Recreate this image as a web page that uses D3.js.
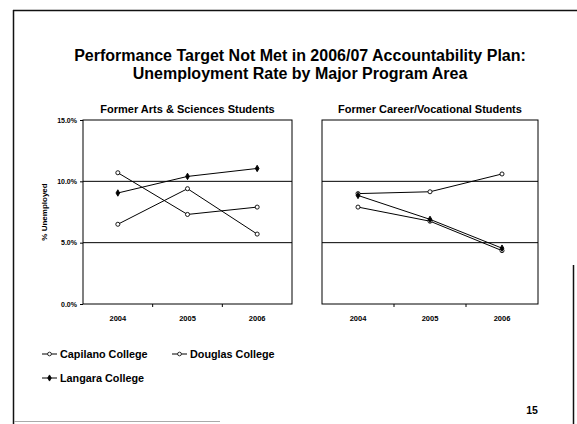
<!DOCTYPE html>
<html>
<head>
<meta charset="utf-8">
<script src="https://cdn.jsdelivr.net/npm/d3@7"></script>
<style>
  body { margin: 0; background: #fff; }
  text { font-family: "Liberation Sans", Arial, sans-serif; font-weight: bold; fill: #000; }
</style>
</head>
<body>
<div id="chart"></div>
<script>
// data
var years = ["2004", "2005", "2006"];
var yTicks = [0, 5, 10, 15];
var colleges = ["Capilano College", "Douglas College", "Langara College"];

// former arts & sciences students (% unemployed)
var artsCapilano = [10.7, 7.3, 7.9];
var artsDouglas = [6.5, 9.4, 5.7];
var artsLangara = [9.05, 10.4, 11.05];

// former career/vocational students
var careerCapilano = [9.0, 9.15, 10.6];
var careerDouglas = [7.9, 6.75, 4.35];
var careerLangara = [8.85, 6.9, 4.55];

var svgWidth = 577;
var svgHeight = 424;

var svg = d3.select("#chart")
  .append("svg")
  .attr("width", svgWidth)
  .attr("height", svgHeight);

// slide frame
svg.append("line").attr("x1", 13).attr("x2", 577).attr("y1", 10.5).attr("y2", 10.5)
  .attr("stroke", "#111").attr("stroke-width", 1.5);
svg.append("line").attr("x1", 13.5).attr("x2", 13.5).attr("y1", 10).attr("y2", 424)
  .attr("stroke", "#111").attr("stroke-width", 1.5);
svg.append("line").attr("x1", 573.5).attr("x2", 573.5).attr("y1", 265).attr("y2", 424)
  .attr("stroke", "#111").attr("stroke-width", 1.5);
svg.append("line").attr("x1", 14).attr("x2", 220).attr("y1", 421.5).attr("y2", 421.5)
  .attr("stroke", "#aaa").attr("stroke-width", 1);

// main title
svg.append("text").attr("x", 300).attr("y", 61).attr("text-anchor", "middle")
  .style("font-size", "16px")
  .text("Performance Target Not Met in 2006/07 Accountability Plan:");
svg.append("text").attr("x", 300).attr("y", 79).attr("text-anchor", "middle")
  .style("font-size", "16px")
  .text("Unemployment Rate by Major Program Area");

var plotTop = 120;
var plotBottom = 304;

var yScale = d3.scaleLinear().domain([0, 15]).range([plotBottom, plotTop]);

function drawPanel(left, right, title, series, showY) {
  var g = svg.append("g");
  var xScale = d3.scaleBand().domain(years).range([left, right]);

  // panel title
  g.append("text")
    .attr("x", (left + right) / 2)
    .attr("y", 113)
    .attr("text-anchor", "middle")
    .style("font-size", "11px")
    .text(title);

  // gridlines at 5% and 10%
  g.selectAll("line.grid")
    .data([5, 10])
    .enter()
    .append("line")
    .attr("x1", left).attr("x2", right)
    .attr("y1", d => yScale(d)).attr("y2", d => yScale(d))
    .attr("stroke", "#000").attr("stroke-width", 1);

  // plot border
  g.append("rect")
    .attr("x", left).attr("y", plotTop)
    .attr("width", right - left).attr("height", plotBottom - plotTop)
    .attr("fill", "none").attr("stroke", "#000").attr("stroke-width", 1);

  // y axis
  var yAxis = d3.axisLeft(yScale).tickValues(yTicks).tickSize(showY ? 3 : 0)
    .tickFormat(d => showY ? d.toFixed(1) + "%" : "");
  var ya = g.append("g").attr("transform", `translate(${left}, 0)`).call(yAxis);
  ya.select(".domain").remove();
  ya.selectAll("text").style("font-size", "7px").attr("font-family", null);

  // x axis
  var xAxis = d3.axisBottom(xScale).tickSize(0).tickPadding(12);
  var xa = g.append("g").attr("transform", `translate(0, ${plotBottom})`).call(xAxis);
  xa.select(".domain").remove();
  xa.selectAll("text").style("font-size", "7.5px").attr("font-family", null);

  // category boundary ticks
  g.selectAll("line.catTick")
    .data(years.slice(1))
    .enter()
    .append("line")
    .attr("x1", d => xScale(d)).attr("x2", d => xScale(d))
    .attr("y1", plotBottom).attr("y2", plotBottom + 3)
    .attr("stroke", "#000");

  var line = d3.line()
    .x((d, i) => xScale(years[i]) + xScale.bandwidth() / 2)
    .y(d => yScale(d));

  series.forEach(function(s) {
    g.append("path")
      .datum(s.values)
      .attr("d", line)
      .attr("fill", "none")
      .attr("stroke", "#000")
      .attr("stroke-width", 1);

    g.selectAll(null)
      .data(s.values)
      .enter()
      .append("path")
      .attr("transform", (d, i) => `translate(${xScale(years[i]) + xScale.bandwidth() / 2}, ${yScale(d)})`)
      .attr("d", d3.symbol().type(s.symbol).size(s.size))
      .attr("fill", s.fill)
      .attr("stroke", "#000")
      .attr("stroke-width", 0.9);
  });
}

drawPanel(83, 292, "Former Arts & Sciences Students", [
  { values: artsCapilano, symbol: d3.symbolCircle, size: 13, fill: "#fff" },
  { values: artsDouglas, symbol: d3.symbolCircle, size: 13, fill: "#fff" },
  { values: artsLangara, symbol: d3.symbolDiamond, size: 12, fill: "#000" }
], true);

drawPanel(322, 538, "Former Career/Vocational Students", [
  { values: careerCapilano, symbol: d3.symbolCircle, size: 13, fill: "#fff" },
  { values: careerDouglas, symbol: d3.symbolCircle, size: 13, fill: "#fff" },
  { values: careerLangara, symbol: d3.symbolDiamond, size: 12, fill: "#000" }
], false);

// y axis title
svg.append("text")
  .attr("transform", "translate(47, 212) rotate(-90)")
  .attr("text-anchor", "middle")
  .style("font-size", "8px")
  .text("% Unemployed");

// legend
var legendPos = [[42, 354], [172, 354], [42, 378]];
var legendSym = [
  { symbol: d3.symbolCircle, size: 11, fill: "#fff" },
  { symbol: d3.symbolCircle, size: 11, fill: "#fff" },
  { symbol: d3.symbolDiamond, size: 11, fill: "#000" }
];

var legend = svg.selectAll("g.legend")
  .data(colleges)
  .enter()
  .append("g")
  .attr("class", "legend")
  .attr("transform", (d, i) => `translate(${legendPos[i][0]}, ${legendPos[i][1]})`);

legend.append("line")
  .attr("x1", 0).attr("x2", 15).attr("y1", 0).attr("y2", 0)
  .attr("stroke", "#000").attr("stroke-width", 1);

legend.append("path")
  .attr("transform", "translate(7.5, 0)")
  .attr("d", (d, i) => d3.symbol().type(legendSym[i].symbol).size(legendSym[i].size)())
  .attr("fill", (d, i) => legendSym[i].fill)
  .attr("stroke", "#000")
  .attr("stroke-width", 0.8);

legend.append("text")
  .attr("x", 18)
  .attr("y", 4)
  .style("font-size", "10.8px")
  .text(d => d);

// slide number
svg.append("text").attr("x", 532).attr("y", 414).attr("text-anchor", "middle")
  .style("font-size", "10.5px")
  .text("15");
</script>
</body>
</html>
